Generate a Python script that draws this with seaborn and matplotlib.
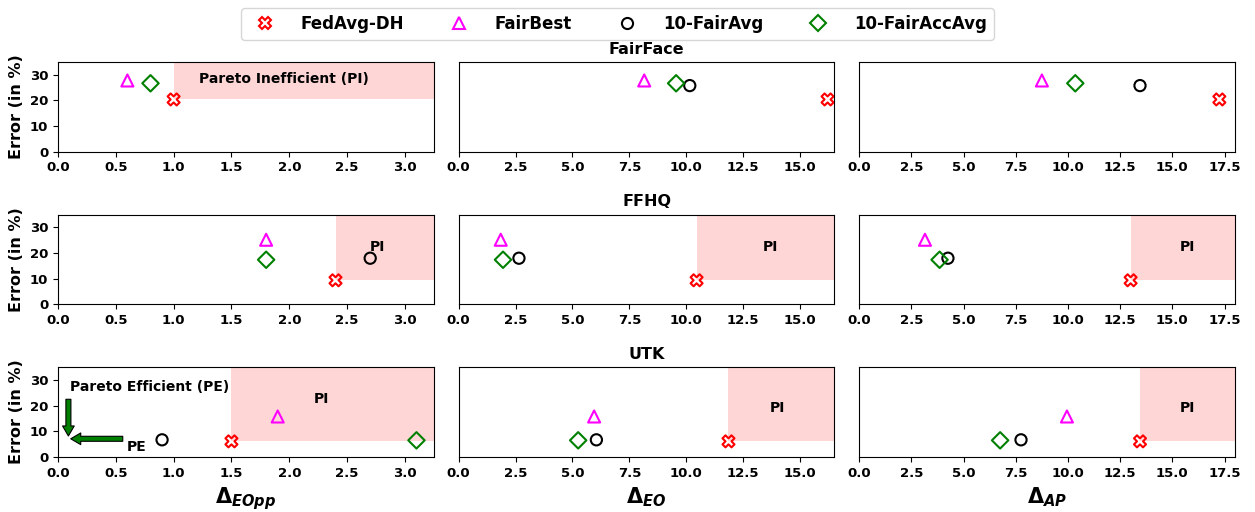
import numpy as np
import pandas as pd
import seaborn as sns
import matplotlib.pyplot as plt
from matplotlib.lines import Line2D

# data
datasets = ['FairFace', 'FFHQ', 'UTK']
metrics = ['EOpp', 'EO', 'AP']
methods = ['FedAvg-DH', 'FairBest', '10-FairAvg', '10-FairAccAvg']

# delta per dataset (rows) x metric (cols)
fedavg_dh_delta = [[1.0, 16.2, 17.25], [2.4, 10.45, 13.0], [1.5, 11.85, 13.45]]
fedavg_dh_err = [20.4, 9.4, 6.1]
fairbest_delta = [[0.6, 8.15, 8.75], [1.8, 1.85, 3.15], [1.9, 5.95, 9.95]]
fairbest_err = [27.8, 25.2, 15.8]
fairavg_delta = [[np.nan, 10.15, 13.45], [2.7, 2.65, 4.25], [0.9, 6.05, 7.75]]
fairavg_err = [25.8, 18.0, 6.7]
fairaccavg_delta = [[0.8, 9.55, 10.35], [1.8, 1.95, 3.85], [3.1, 5.25, 6.75]]
fairaccavg_err = [26.7, 17.4, 6.5]

# shade Pareto inefficient region (relative to FedAvg-DH)?
shade = [[True, False, False], [True, True, True], [True, True, True]]

rows = []
for m, d, e in zip(methods,
                   [fedavg_dh_delta, fairbest_delta, fairavg_delta, fairaccavg_delta],
                   [fedavg_dh_err, fairbest_err, fairavg_err, fairaccavg_err]):
    for i, ds in enumerate(datasets):
        for j, mt in enumerate(metrics):
            rows.append(dict(method=m, dataset=ds, metric=mt, delta=d[i][j], err=e[i]))
df = pd.DataFrame(rows)

colors = {'FedAvg-DH': 'red', 'FairBest': 'magenta', '10-FairAvg': 'black', '10-FairAccAvg': 'green'}
markers = {'FedAvg-DH': 'X', 'FairBest': '^', '10-FairAvg': 'o', '10-FairAccAvg': 'D'}
sizes = {'FedAvg-DH': 75, 'FairBest': 75, '10-FairAvg': 65, '10-FairAccAvg': 70}

xlims = [3.25, 16.5, 18.0]
xticks = [np.arange(0, 3.01, 0.5), np.arange(0, 15.01, 2.5), np.arange(0, 17.51, 2.5)]
xlabels = [r'$\mathbf{\Delta}_{\mathbfit{EOpp}}$', r'$\mathbf{\Delta}_{\mathbfit{EO}}$',
           r'$\mathbf{\Delta}_{\mathbfit{AP}}$']

plt.rcParams['font.weight'] = 'bold'
plt.rcParams['axes.labelweight'] = 'bold'
plt.rcParams['axes.titleweight'] = 'bold'

fig, axn = plt.subplots(3, 3, figsize=(12.55, 5.12), dpi=100)
fig.subplots_adjust(left=58/1255, right=1235/1255, top=1-62/512, bottom=1-457/512,
                    wspace=0.066, hspace=0.7)

for i, ds in enumerate(datasets):
    for j, mt in enumerate(metrics):
        ax = axn[i, j]
        sub = df[(df.dataset == ds) & (df.metric == mt)]
        if shade[i][j]:
            x0 = fedavg_dh_delta[i][j]
            y0 = fedavg_dh_err[i]
            ax.fill_between([x0, xlims[j]], y0, 35, color='#ffd6d6', linewidth=0, zorder=0)
        for m in methods:
            s = sub[sub.method == m]
            sns.scatterplot(data=s, x='delta', y='err', ax=ax, marker=markers[m],
                            s=sizes[m], color=colors[m], facecolors='none',
                            edgecolors=colors[m], linewidth=1.5, zorder=3, legend=False)
        ax.set_xlim(0, xlims[j])
        ax.set_ylim(0, 35)
        ax.set_xticks(xticks[j])
        ax.tick_params(labelsize=9.5)
        ax.set_xlabel(xlabels[j] if i == 2 else '', fontsize=15)
        if j == 0:
            ax.set_yticks([0, 10, 20, 30])
            ax.set_ylabel('Error (in %)', fontsize=11.5)
        else:
            ax.set_yticks([])
            ax.set_ylabel('')
        if j == 1:
            ax.set_title(ds, fontsize=11.5, pad=6)

# annotations
axn[0, 0].text(1.95, 28.2, 'Pareto Inefficient (PI)', ha='center', va='center', fontsize=10)
axn[1, 0].text(2.76, 22.5, 'PI', ha='center', va='center', fontsize=10)
axn[1, 1].text(13.7, 22.5, 'PI', ha='center', va='center', fontsize=10)
axn[1, 2].text(15.7, 22.5, 'PI', ha='center', va='center', fontsize=10)
axn[2, 0].text(2.28, 22.8, 'PI', ha='center', va='center', fontsize=10)
axn[2, 1].text(14.0, 19.1, 'PI', ha='center', va='center', fontsize=10)
axn[2, 2].text(15.7, 19.1, 'PI', ha='center', va='center', fontsize=10)
axn[2, 0].text(0.1, 27.2, 'Pareto Efficient (PE)', ha='left', va='center', fontsize=10)
axn[2, 0].text(0.68, 4.0, 'PE', ha='center', va='center', fontsize=10)
arrow = dict(arrowstyle='simple,head_length=0.6,head_width=0.7,tail_width=0.3',
             fc='green', ec='black', lw=0.8, mutation_scale=12, shrinkA=0, shrinkB=0)
axn[2, 0].annotate('', xy=(0.09, 8.2), xytext=(0.09, 22.5), arrowprops=arrow)
axn[2, 0].annotate('', xy=(0.11, 7.1), xytext=(0.56, 7.1), arrowprops=arrow)

handles = [Line2D([], [], linestyle='none', marker=markers[m], markersize=8,
                  markerfacecolor='none', markeredgecolor=colors[m], markeredgewidth=1.5)
           for m in methods]
fig.legend(handles, methods, loc='upper center', ncol=4, bbox_to_anchor=(0.492, 1.0),
           fontsize=12, columnspacing=2.3, handletextpad=1.15, frameon=True)

plt.savefig('out.png', dpi=100)
